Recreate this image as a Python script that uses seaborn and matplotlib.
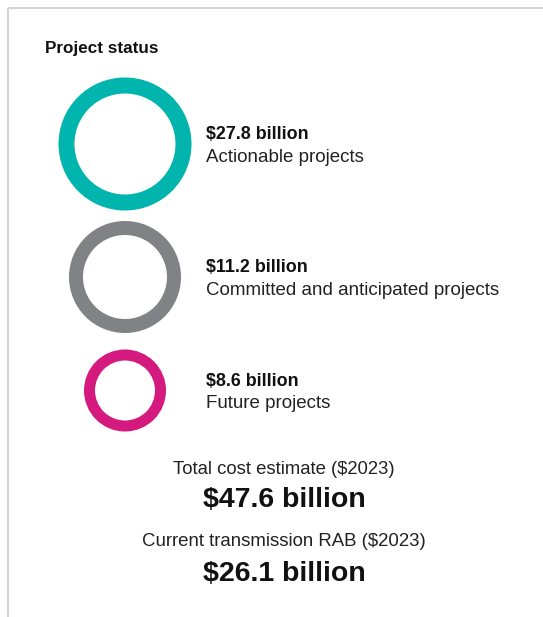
import matplotlib
matplotlib.use("Agg")
import matplotlib.pyplot as plt
import seaborn as sns
import pandas as pd

# Project status data ($2023, billions)
categories = ["Actionable projects", "Committed and anticipated projects", "Future projects"]
values = [27.8, 11.2, 8.6]
rab_value = 26.1
total_label = "Total cost estimate ($2023)"
rab_label = "Current transmission RAB ($2023)"
title = "Project status"

# Styling
colors = ["#00B5AD", "#808285", "#D4197F"]
ring_outer_px = [66.5, 56, 41]
ring_width_px = [16, 14, 11]
ring_cx = 125
ring_cy = [144, 277, 390.5]

W, H, DPI = 543, 617, 100
PT = 72 / DPI  # points per pixel

sns.set_theme(style="white")
plt.rcParams["font.family"] = ["Liberation Sans", "DejaVu Sans"]

fig = plt.figure(figsize=(W / DPI, H / DPI), dpi=DPI)
ax = fig.add_axes([0, 0, 1, 1])
ax.set_xlim(0, W)
ax.set_ylim(H, 0)
ax.axis("off")

df = pd.DataFrame({"category": categories, "value": values, "y": ring_cy})

# Rings drawn as hollow scatter markers
for i, row in df.iterrows():
    diam_pt = (2 * ring_outer_px[i] - ring_width_px[i]) * PT
    sns.scatterplot(x=[ring_cx], y=[row["y"]], ax=ax, s=diam_pt ** 2,
                    facecolor="none", edgecolor=colors[i],
                    linewidth=ring_width_px[i] * PT, legend=False, zorder=3)
    ax.text(206.5, row["y"] - 5, f"${row['value']:.1f} billion", fontsize=12.9,
            fontweight="bold", color="#111111", va="baseline", ha="left")
    ax.text(206.5, row["y"] + 18, row["category"], fontsize=13.5,
            color="#222222", va="baseline", ha="left")

ax.text(45, 53, title, fontsize=12.3, fontweight="bold", color="#111111",
        va="baseline", ha="left")

total = sum(values)
cx = 284
ax.text(cx, 474, total_label, fontsize=13.3, color="#222222", ha="center", va="baseline")
ax.text(cx, 507, f"${total:.1f} billion", fontsize=20.5, fontweight="bold",
        color="#111111", ha="center", va="baseline")
ax.text(cx, 546, rab_label, fontsize=13.4, color="#222222", ha="center", va="baseline")
ax.text(cx, 581, f"${rab_value:.1f} billion", fontsize=20.5, fontweight="bold",
        color="#111111", ha="center", va="baseline")

# Panel border (top and left edges)
ax.plot([7.5, W], [7.5, 7.5], color="#D3D3D3", lw=2 * PT, solid_capstyle="butt")
ax.plot([7.5, 7.5], [7.5, H], color="#D3D3D3", lw=2 * PT, solid_capstyle="butt")

fig.savefig("out.png", dpi=DPI)
